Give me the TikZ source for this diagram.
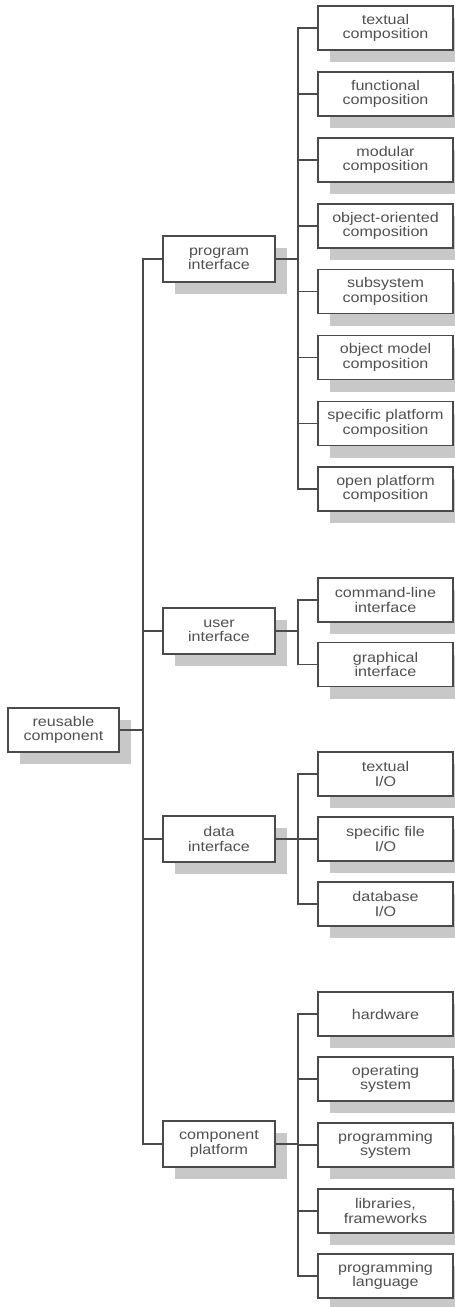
\documentclass[tikz,border=0pt]{standalone}
\usepackage{fontspec}
\setmainfont[FakeStretch=1.15]{Liberation Sans}
\usetikzlibrary{shadows}
\definecolor{ink}{HTML}{4A4A4A}
\definecolor{txt}{HTML}{505050}
\definecolor{shade}{HTML}{C8C8C8}
\begin{document}
\begin{tikzpicture}[x=1pt,y=-1pt,
  box/.style={draw=ink, line width=1.6pt, fill=white, text=txt, align=center,
    font=\fontsize{14}{14.5}\selectfont, inner sep=0pt,
    general shadow={fill=shade, draw=none, shadow xshift=12pt, shadow yshift=-12pt}},
  leaf/.style={box, minimum width=135pt, minimum height=44pt},
  mid/.style={box, minimum width=112pt, minimum height=46pt},
  link/.style={draw=ink, line width=1.6pt, line cap=rect}]
\clip (0,0) rectangle (455,1307);
\useasboundingbox (0,0) rectangle (455,1307);

% root
\node[box, minimum width=111pt, minimum height=44pt] (root) at (63.5,730) {reusable\\component};

% second level
\node[mid] (pi) at (219,259)  {program\\interface};
\node[mid] (ui) at (219,631)  {user\\interface};
\node[mid] (di) at (219,839)  {data\\interface};
\node[mid] (cp) at (219,1144) {component\\platform};

% program interface leaves
\node[leaf] (p1) at (385.5,28)    {textual\\composition};
\node[leaf] (p2) at (385.5,94)    {functional\\composition};
\node[leaf] (p3) at (385.5,160)   {modular\\composition};
\node[leaf] (p4) at (385.5,226)   {object-oriented\\composition};
\node[leaf] (p5) at (385.5,291.5) {subsystem\\composition};
\node[leaf] (p6) at (385.5,357.5) {object model\\composition};
\node[leaf] (p7) at (385.5,423.5) {specific platform\\composition};
\node[leaf] (p8) at (385.5,489)   {open platform\\composition};

% user interface leaves
\node[leaf] (u1) at (385.5,600)   {command-line\\interface};
\node[leaf] (u2) at (385.5,664.5) {graphical\\interface};

% data interface leaves
\node[leaf] (d1) at (385.5,774) {textual\\I/O};
\node[leaf] (d2) at (385.5,839) {specific file\\I/O};
\node[leaf] (d3) at (385.5,904) {database\\I/O};

% component platform leaves
\node[leaf] (c1) at (385.5,1014) {hardware};
\node[leaf] (c2) at (385.5,1079) {operating\\system};
\node[leaf] (c3) at (385.5,1145) {programming\\system};
\node[leaf] (c4) at (385.5,1211) {libraries,\\frameworks};
\node[leaf] (c5) at (385.5,1276) {programming\\language};

% trunk and branch buses
\coordinate (trunk) at (143,0);
\coordinate (bus) at (298,0);

\draw[link] (root.east) -- (trunk |- root);
\draw[link] (trunk |- pi) -- (trunk |- cp);
\foreach \n in {pi,ui,di,cp} \draw[link] (trunk |- \n) -- (\n.west);

% program interface branch
\draw[link] (pi.east) -- (bus |- pi);
\draw[link] (bus |- p1) -- (bus |- p8);
\foreach \n in {p1,p2,p3,p4,p5,p6,p7,p8} \draw[link] (bus |- \n) -- (\n.west);

% user interface branch
\draw[link] (ui.east) -- (bus |- ui);
\draw[link] (bus |- u1) -- (bus |- u2);
\foreach \n in {u1,u2} \draw[link] (bus |- \n) -- (\n.west);

% data interface branch
\draw[link] (di.east) -- (bus |- di);
\draw[link] (bus |- d1) -- (bus |- d3);
\foreach \n in {d1,d2,d3} \draw[link] (bus |- \n) -- (\n.west);

% component platform branch
\draw[link] (cp.east) -- (bus |- cp);
\draw[link] (bus |- c1) -- (bus |- c5);
\foreach \n in {c1,c2,c3,c4,c5} \draw[link] (bus |- \n) -- (\n.west);
\end{tikzpicture}
\end{document}
